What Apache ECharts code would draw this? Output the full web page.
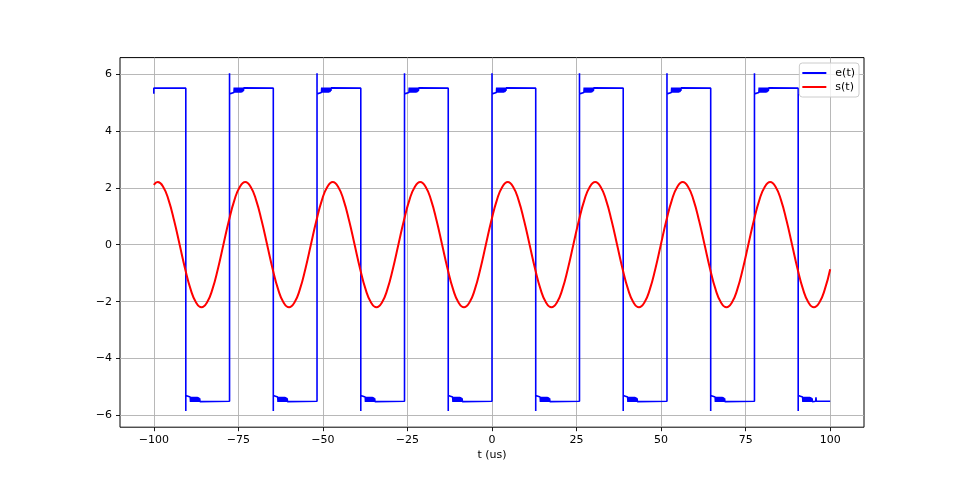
<!DOCTYPE html>
<html><head><meta charset="utf-8">
<script src="https://cdn.jsdelivr.net/npm/echarts@6/dist/echarts.min.js"></script>
<style>html,body{margin:0;background:#fff}#c{width:960px;height:480px}</style>
</head><body><div id="c"></div>
<script>
// ---- tick labels ----
const xTicks = [-100, -75, -50, -25, 0, 25, 50, 75, 100];
const yTicks = [-6, -4, -2, 0, 2, 4, 6];

// ---- e(t): square wave ----
const eStartT = [-100, -100];
const eStartV = [5.3, 5.5];
const fallT = [-90.54, -64.67, -38.8, -12.94, 12.93, 38.8, 64.67, 90.54];
const riseT = [-77.61, -51.74, -25.87, 0, 25.87, 51.74, 77.61];
const eHigh = 5.5;
const eLow = -5.5;
const eSpikeHigh = 6.02;
const eSpikeLow = -5.84;
const eSettleHigh = 5.3;
const eSettleLow = -5.3;
// ringing after each edge: time offset from the edge, deviation from the level (negative = toward zero)
const ringOff = [0.3, 1.3, 1.4, 1.5, 1.6, 1.7, 1.8, 1.9, 2.0, 2.1, 2.2, 2.3, 2.4, 2.5, 2.6, 2.7, 2.8, 2.9, 3.0, 3.1, 3.2, 3.3, 3.4, 3.5, 3.6, 3.7, 3.8, 3.9, 4.0, 4.1, 4.2, 4.3];
const ringDev = [-0.14, -0.15, 0.02, -0.16, 0.02, -0.16, 0.02, -0.16, 0.02, -0.16, 0.02, -0.16, 0.02, -0.16, 0.02, -0.16, 0.02, -0.16, 0.02, -0.16, 0.02, -0.16, 0.02, -0.15, 0.02, -0.14, 0.02, -0.12, 0.02, -0.1, 0.01, 0];
const eTailT = [95.7, 95.8, 95.9, 100];
const eTailV = [-5.5, -5.36, -5.5, -5.5];

// ---- s(t): sine-like response ----
const sT = [-100, -98.83, -97.21, -95.6, -93.98, -92.36, -90.75, -89.13, -87.51, -85.89, -84.28, -82.66, -81.04, -79.43, -77.81, -76.19, -74.58,
 -72.96, -71.34, -69.73, -68.11, -66.49, -64.88, -63.26, -61.64, -60.02, -58.41, -56.79, -55.17, -53.56, -51.94, -50.32, -48.71,
 -47.09, -45.47, -43.86, -42.24, -40.62, -39.01, -37.39, -35.77, -34.15, -32.54, -30.92, -29.3, -27.69, -26.07, -24.45, -22.84,
 -21.22, -19.6, -17.99, -16.37, -14.75, -13.14, -11.52, -9.9, -8.28, -6.67, -5.05, -3.43, -1.82, -0.2, 1.42, 3.03,
 4.65, 6.27, 7.88, 9.5, 11.12, 12.73, 14.35, 15.97, 17.59, 19.2, 20.82, 22.44, 24.05, 25.67, 27.29, 28.9,
 30.52, 32.14, 33.75, 35.37, 36.99, 38.6, 40.22, 41.84, 43.46, 45.07, 46.69, 48.31, 49.92, 51.54, 53.16, 54.77,
 56.39, 58.01, 59.62, 61.24, 62.86, 64.47, 66.09, 67.71, 69.33, 70.94, 72.56, 74.18, 75.79, 77.41, 79.03, 80.64,
 82.26, 83.88, 85.49, 87.11, 88.73, 90.34, 91.96, 93.58, 95.2, 96.81, 98.43, 100];
const sV = [2.1,
 2.2, 2.03, 1.56, 0.84, 0, -0.84, -1.56, -2.03, -2.2, -2.03, -1.56, -0.84, 0, 0.84, 1.56, 2.03,
 2.2, 2.03, 1.56, 0.84, 0, -0.84, -1.56, -2.03, -2.2, -2.03, -1.56, -0.84, 0, 0.84, 1.56, 2.03,
 2.2, 2.03, 1.56, 0.84, 0, -0.84, -1.56, -2.03, -2.2, -2.03, -1.56, -0.84, 0, 0.84, 1.56, 2.03,
 2.2, 2.03, 1.56, 0.84, 0, -0.84, -1.56, -2.03, -2.2, -2.03, -1.56, -0.84, 0, 0.84, 1.56, 2.03,
 2.2, 2.03, 1.56, 0.84, 0, -0.84, -1.56, -2.03, -2.2, -2.03, -1.56, -0.84, 0, 0.84, 1.56, 2.03,
 2.2, 2.03, 1.56, 0.84, 0, -0.84, -1.56, -2.03, -2.2, -2.03, -1.56, -0.84, 0, 0.84, 1.56, 2.03,
 2.2, 2.03, 1.56, 0.84, 0, -0.84, -1.56, -2.03, -2.2, -2.03, -1.56, -0.84, 0, 0.84, 1.56, 2.03,
 2.2, 2.03, 1.56, 0.84, 0, -0.84, -1.56, -2.03, -2.2, -2.03, -1.56,
 -0.86];

// ---- build series data ----
const eData = [];
eStartT.forEach((t, i) => eData.push([t, eStartV[i]]));
fallT.forEach((F, i) => {
  eData.push([F, eHigh], [F, eSpikeLow], [F, eSettleLow]);
  ringOff.forEach((o, k) => eData.push([F + o, eLow - ringDev[k]]));
  if (i < riseT.length) {
    const R = riseT[i];
    eData.push([R, eLow], [R, eSpikeHigh], [R, eSettleHigh]);
    ringOff.forEach((o, k) => eData.push([R + o, eHigh + ringDev[k]]));
  }
});
eTailT.forEach((t, i) => eData.push([t, eTailV[i]]));
const sData = sT.map((t, i) => [t, sV[i]]);

const fmt = v => (v < 0 ? '\u2212' + Math.abs(v) : String(v));
const chart = echarts.init(document.getElementById('c'), null, {renderer: 'canvas'});
chart.setOption({
  animation: false,
  backgroundColor: '#ffffff',
  textStyle: {fontFamily: 'DejaVu Sans'},
  grid: {left: 120, top: 57.6, width: 744, height: 369.6, show: true, borderColor: '#000', borderWidth: 1, backgroundColor: 'transparent'},
  xAxis: {
    type: 'value', min: -110, max: 110,
    axisLine: {show: false, onZero: false},
    axisTick: {show: true, length: 4, lineStyle: {color: '#000', width: 0.9}, customValues: xTicks},
    axisLabel: {customValues: xTicks, formatter: fmt, color: '#000', fontSize: 11, margin: 7, fontFamily: 'DejaVu Sans'},
    splitLine: {show: true, lineStyle: {color: '#b0b0b0', width: 0.9}},
    name: 't (us)', nameLocation: 'middle', nameGap: 21,
    nameTextStyle: {color: '#000', fontSize: 11, fontFamily: 'DejaVu Sans'}
  },
  yAxis: {
    type: 'value', min: -6.41, max: 6.574,
    axisLine: {show: false, onZero: false},
    axisTick: {show: true, length: 4, lineStyle: {color: '#000', width: 0.9}, customValues: yTicks},
    axisLabel: {customValues: yTicks, formatter: fmt, color: '#000', fontSize: 11, margin: 8, fontFamily: 'DejaVu Sans'},
    splitLine: {show: true, lineStyle: {color: '#b0b0b0', width: 0.9}}
  },
  legend: {
    data: ['e(t)', 's(t)'], orient: 'vertical', right: 101, top: 63,
    icon: 'rect', itemWidth: 24, itemHeight: 2, itemGap: 0,
    padding: [3, 4, 3, 3],
    backgroundColor: 'rgba(255,255,255,0.8)', borderColor: '#cccccc', borderWidth: 1, borderRadius: 3,
    textStyle: {fontSize: 11, color: '#000', lineHeight: 14, padding: [0, 0, 0, 4], fontFamily: 'DejaVu Sans'}
  },
  series: [
    {name: 'e(t)', type: 'line', data: eData, symbol: 'none', showSymbol: false,
     lineStyle: {color: '#0000ff', width: 1.6, join: 'bevel'}, itemStyle: {color: '#0000ff'}, clip: true},
    {name: 's(t)', type: 'line', data: sData, symbol: 'none', showSymbol: false, smooth: true,
     lineStyle: {color: '#ff0000', width: 2}, itemStyle: {color: '#ff0000'}, clip: true}
  ]
});
</script></body></html>
